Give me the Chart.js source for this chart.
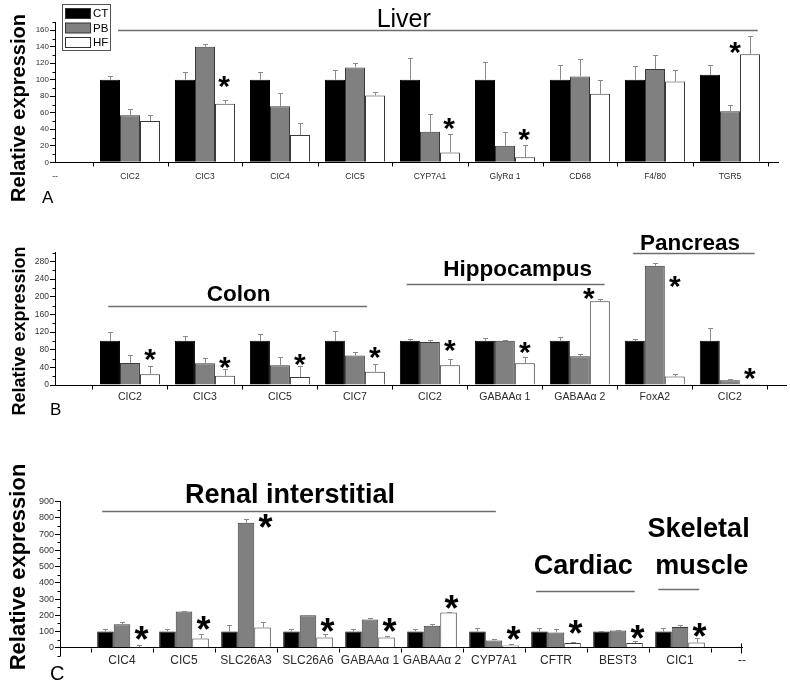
<!DOCTYPE html>
<html><head><meta charset="utf-8">
<script src="https://cdn.jsdelivr.net/npm/chart.js@4.4.1/dist/chart.umd.min.js"></script>
<style>
html,body{margin:0;padding:0;background:#fff;}
#wrap{position:relative;width:790px;height:691px;overflow:hidden;background:#fff;}
canvas{position:absolute;left:0;}
</style></head><body>
<div id="wrap">
<canvas id="cA" width="790" height="210" style="top:0px"></canvas>
<canvas id="cB" width="790" height="230" style="top:210px"></canvas>
<canvas id="cC" width="790" height="251" style="top:440px"></canvas>
</div>
<script>
// ---------------- DATA ----------------
const seriesNames = ["CT", "PB", "HF"];
const yTitleText = "Relative expression";

// Panel A (Liver)
const ticksA = ["--", "CIC2", "CIC3", "CIC4", "CIC5", "CYP7A1", "GlyRα 1", "CD68", "F4/80", "TGR5"];
const ctA    = [100, 100, 100, 100, 100, 100, 100, 100, 106];
const ctErrA = [5, 10, 10, 12, 26, 21, 18, 17, 12];
const pbA    = [57, 140, 68, 115, 37, 20, 104, 113, 62];
const pbErrA = [7, 3, 16, 5, 22, 17, 21, 17, 8];
const hfA    = [50, 71, 33, 81, 12, 6, 83, 98, 131];
const hfErrA = [7, 4, 15, 4, 22, 15, 17, 14, 22];
const sigA   = [null, 97, null, null, 47, 33, null, null, 139];
const yTicksA = [0, 20, 40, 60, 80, 100, 120, 140, 160];

// Panel B (Colon / Hippocampus / Pancreas)
const ticksB = ["", "CIC2", "CIC3", "CIC5", "CIC7", "CIC2", "GABAAα 1", "GABAAα 2", "FoxA2", "CIC2"];
const ctB    = [100, 100, 100, 100, 100, 100, 100, 100, 100];
const ctErrB = [20, 10, 15, 23, 4, 6.5, 9, 4, 29];
const pbB    = [50, 49.5, 45, 67, 97.5, 100, 65, 270, 10.7];
const pbErrB = [18, 11, 19, 8, 5, 2, 4.5, 6, 2.5];
const hfB    = [24.5, 21, 18, 30, 45, 49.5, 189.5, 19, 2.3];
const hfErrB = [19, 15, 24, 17.5, 14, 14.5, 4.5, 6, 0];
const sigB   = [68, 50, 57, 73, 89, 84.5, 205, 233, 25];
const yTicksB = [0, 40, 80, 120, 160, 200, 240, 280];

// Panel C (Renal interstitial / Cardiac / Skeletal muscle)
const ticksC = ["", "CIC4", "CIC5", "SLC26A3", "SLC26A6", "GABAAα 1", "GABAAα 2", "CYP7A1", "CFTR", "BEST3", "CIC1", "--"];
const ctC    = [100, 100, 100, 100, 100, 100, 100, 100, 100, 100];
const ctErrC = [14, 14, 39, 12.5, 12.5, 14.5, 18.6, 22.7, 4, 18.6];
const pbC    = [145, 223, 771, 200, 174, 135, 45, 94, 106, 127];
const pbErrC = [12.5, 6, 22.6, 4, 6, 10, 10, 20.5, 6, 10];
const hfC    = [4, 57, 125, 63, 63, 217, 14, 28.6, 28.6, 32.7];
const hfErrC = [10, 27, 31, 21, 12, 1, 6, 6, 10, 24.6];
const sigC   = [90, 152, 783, 139, 139, 280, 90, 127, 96, 108];
const yTicksC = [0, 100, 200, 300, 400, 500, 600, 700, 800, 900];

// ---------------- RENDERING ----------------
const FONT = '"Liberation Sans", Arial, Helvetica, sans-serif';
const barStyle = [
  {backgroundColor: '#000000', borderColor: '#000000'},
  {backgroundColor: '#808080', borderColor: '#3a3a3a'},
  {backgroundColor: '#ffffff', borderColor: '#3a3a3a'}
];

function makeDecor(p) {
  return {
    id: 'decor_' + p.canvas,
    afterDatasetsDraw(chart) {
      const ctx = chart.ctx, ys = chart.scales.y;
      ctx.save();
      ctx.strokeStyle = '#8a8a8a';
      ctx.lineWidth = 1;
      chart.data.datasets.forEach((d, di) => {
        const meta = chart.getDatasetMeta(di);
        meta.data.forEach((el, i) => {
          const sd = d.err[i];
          if (!sd) return;
          const x = Math.round(el.x) + 0.5;
          const yTop = Math.round(ys.getPixelForValue(d.data[i].y + sd)) + 0.5;
          ctx.beginPath();
          ctx.moveTo(x, el.y);
          ctx.lineTo(x, yTop);
          ctx.moveTo(x - 2.5, yTop);
          ctx.lineTo(x + 2.5, yTop);
          ctx.stroke();
        });
      });
      ctx.restore();
    },
    afterDraw(chart) {
      const ctx = chart.ctx, xs = chart.scales.x, ys = chart.scales.y;
      const ca = chart.chartArea;
      ctx.save();
      // minor y ticks
      ctx.strokeStyle = '#000';
      ctx.lineWidth = 1;
      const ax = Math.round(ca.left) + 0.5;
      ctx.beginPath();
      for (let v = p.yMin; v <= p.yMax + 1e-9; v += p.minorStep) {
        if (p.yTicks.includes(v)) continue;
        const py = Math.round(ys.getPixelForValue(v)) + 0.5;
        ctx.moveTo(ax - 3, py); ctx.lineTo(ax, py);
      }
      // x ticks between categories
      const ay = Math.round(ys.getPixelForValue(0)) + 0.5;
      for (let i = 0; i < p.ticks.length; i++) {
        const v = i + 0.5;
        if (v >= p.xMax) continue;
        const px = Math.round(xs.getPixelForValue(v)) + 0.5;
        ctx.moveTo(px, ay); ctx.lineTo(px, ay + 4);
      }
      if (p.endTick) {
        const px = Math.round(xs.getPixelForValue(p.xMax)) - 0.5;
        ctx.moveTo(px, ay - 5); ctx.lineTo(px, ay + 5);
      }
      ctx.stroke();

      // significance stars
      const hfMeta = chart.getDatasetMeta(2);
      ctx.fillStyle = '#000';
      ctx.font = `bold ${p.starSize}px ${FONT}`;
      ctx.textAlign = 'center';
      ctx.textBaseline = 'alphabetic';
      const m = ctx.measureText('*');
      const off = (m.actualBoundingBoxAscent - m.actualBoundingBoxDescent) / 2;
      p.sig.forEach((s, i) => {
        if (s == null) return;
        const el = hfMeta.data[i];
        const nud = (p.starNudge && p.starNudge[i]) || 0;
        const x = el.x + p.starShift + nud;
        const y = ys.getPixelForValue(s);
        ctx.fillText('*', x, y + off);
      });

      // group rules
      ctx.strokeStyle = '#6e6e6e';
      ctx.lineWidth = 1.3;
      p.rules.forEach(r => {
        const y = Math.round(ys.getPixelForValue(r.y)) + 0.5;
        ctx.beginPath();
        ctx.moveTo(xs.getPixelForValue(r.x1), y);
        ctx.lineTo(xs.getPixelForValue(r.x2), y);
        ctx.stroke();
      });
      // group labels
      p.labels.forEach(l => {
        ctx.font = `${l.bold ? 'bold ' : ''}${l.size}px ${FONT}`;
        ctx.textAlign = 'center';
        ctx.textBaseline = 'alphabetic';
        ctx.fillStyle = '#000';
        ctx.fillText(l.t, xs.getPixelForValue(l.x), ys.getPixelForValue(l.y));
      });

      // y title
      ctx.save();
      ctx.translate(p.yTitle.x, p.yTitle.y);
      ctx.rotate(-Math.PI / 2);
      ctx.font = `bold ${p.yTitle.size}px ${FONT}`;
      ctx.fillStyle = '#000';
      ctx.textAlign = 'center';
      ctx.textBaseline = 'alphabetic';
      ctx.fillText(yTitleText, 0, 0);
      ctx.restore();

      // panel letter
      ctx.font = `${p.letter.size}px ${FONT}`;
      ctx.fillStyle = '#000';
      ctx.textAlign = 'left';
      ctx.textBaseline = 'alphabetic';
      ctx.fillText(p.letter.t, p.letter.x, p.letter.y);

      // legend
      if (p.legend) {
        ctx.strokeStyle = '#555';
        ctx.lineWidth = 1;
        ctx.strokeRect(62.5, 4.5, 48, 46);
        chart.data.datasets.forEach((d, k) => {
          const y = 8.5 + k * 14.5;
          ctx.fillStyle = d.backgroundColor;
          ctx.fillRect(65.5, y, 25, 10);
          ctx.strokeStyle = '#333';
          ctx.strokeRect(65.5, y, 25, 10);
          ctx.fillStyle = '#000';
          ctx.font = `11.5px ${FONT}`;
          ctx.textAlign = 'left';
          ctx.textBaseline = 'middle';
          ctx.fillText(d.label, 93, y + 5.5);
        });
      }
      ctx.restore();
    }
  };
}

function makePanel(p) {
  const xy = arr => arr.map((v, i) => ({x: i + 1, y: v}));
  const vals = [[p.ct, p.ctErr], [p.pb, p.pbErr], [p.hf, p.hfErr]];
  const datasets = vals.map((v, k) => Object.assign({
    label: seriesNames[k],
    data: xy(v[0]),
    err: v[1],
    borderWidth: 1,
    categoryPercentage: 0.8,
    barPercentage: 1.0
  }, barStyle[k]));

  return new Chart(document.getElementById(p.canvas), {
    type: 'bar',
    data: {datasets},
    plugins: [makeDecor(p)],
    options: {
      animation: false,
      responsive: false,
      devicePixelRatio: 1,
      layout: {padding: {left: 0, top: p.top, right: p.right, bottom: p.xAtZero ? p.bottom : 0}},
      plugins: {legend: {display: false}, tooltip: {enabled: false}, title: {display: false}},
      scales: {
        x: {
          type: 'linear',
          min: 0, max: p.xMax,
          offset: false,
          position: p.xAtZero ? {y: 0} : 'bottom',
          grid: {display: true, drawOnChartArea: false, offset: false, drawTicks: true,
                 tickLength: 4, tickColor: 'rgba(0,0,0,0)'},
          border: {display: true, color: '#000', width: 1},
          ticks: {autoSkip: false, maxRotation: 0, minRotation: 0, padding: p.xPad,
                  color: '#2a2a2a', font: {family: FONT, size: p.xFont},
                  callback: v => (p.ticks[v] !== undefined ? p.ticks[v] : '')},
          afterBuildTicks: s => { s.ticks = p.ticks.map((_, i) => ({value: i})); },
          afterFit: s => { s.height = p.xAtZero ? 0 : p.bottom; }
        },
        y: {
          type: 'linear',
          position: 'left',
          min: p.yMin, max: p.yMax,
          grid: {display: true, drawOnChartArea: false, tickLength: 5, tickColor: '#000'},
          border: {display: true, color: '#000', width: 1},
          ticks: {padding: 1, color: '#333', font: {family: FONT, size: p.yFont},
                  callback: v => String(v)},
          afterBuildTicks: s => { s.ticks = p.yTicks.map(v => ({value: v})); },
          afterFit: s => { s.width = p.left; }
        }
      }
    }
  });
}

makePanel({
  canvas: 'cA', ticks: ticksA, yTicks: yTicksA, yMin: 0, yMax: 170, xMax: 9.64, minorStep: 10,
  ct: ctA, ctErr: ctErrA, pb: pbA, pbErr: pbErrA, hf: hfA, hfErr: hfErrA, sig: sigA,
  left: 55, top: 22, right: 12, bottom: 47.7,
  xFont: 8.5, yFont: 8, xPad: 5, starSize: 30, starShift: -1, starNudge: {8: -14},
  legend: true, xAtZero: false, endTick: false,
  yTitle: {size: 20, x: 25, y: 108},
  letter: {t: 'A', size: 17, x: 42, y: 203},
  labels: [{t: 'Liver', x: 4.65, y: 164.4, size: 25, bold: false}],
  rules: [{x1: 0.84, x2: 9.37, y: 160}]
});

makePanel({
  canvas: 'cB', ticks: ticksB, yTicks: yTicksB, yMin: 0, yMax: 300, xMax: 9.75, minorStep: 20,
  ct: ctB, ctErr: ctErrB, pb: pbB, pbErr: pbErrB, hf: hfB, hfErr: hfErrB, sig: sigB,
  left: 55, top: 42.5, right: 4, bottom: 55,
  xFont: 10.5, yFont: 8.5, xPad: 2, starSize: 30, starShift: 0, starNudge: {6: -11},
  legend: false, xAtZero: false, endTick: false,
  yTitle: {size: 18, x: 25, y: 121},
  letter: {t: 'B', size: 17, x: 50, y: 205},
  labels: [
    {t: 'Colon', x: 2.45, y: 190, size: 22.5, bold: true},
    {t: 'Hippocampus', x: 6.17, y: 247, size: 22.5, bold: true},
    {t: 'Pancreas', x: 8.47, y: 306.6, size: 22.5, bold: true}
  ],
  rules: [{x1: 0.71, x2: 4.16, y: 178}, {x1: 4.69, x2: 7.33, y: 229}, {x1: 7.71, x2: 9.33, y: 298.4}]
});

makePanel({
  canvas: 'cC', ticks: ticksC, yTicks: yTicksC, yMin: -50, yMax: 900, xMax: 11, minorStep: 50,
  ct: ctC, ctErr: ctErrC, pb: pbC, pbErr: pbErrC, hf: hfC, hfErr: hfErrC, sig: sigC,
  left: 60, top: 61.7, right: 48, bottom: 35.2,
  xFont: 12, yFont: 9, xPad: 2, starSize: 36, starShift: 3, starNudge: {},
  legend: false, xAtZero: true, endTick: true,
  yTitle: {size: 22, x: 25, y: 127},
  letter: {t: 'C', size: 20, x: 50, y: 240},
  labels: [
    {t: 'Renal interstitial', x: 3.71, y: 890, size: 27, bold: true},
    {t: 'Cardiac', x: 8.44, y: 456, size: 27, bold: true},
    {t: 'Skeletal', x: 10.3, y: 685, size: 27, bold: true},
    {t: 'muscle', x: 10.35, y: 456, size: 27, bold: true}
  ],
  rules: [{x1: 0.68, x2: 7.03, y: 845}, {x1: 7.68, x2: 9.27, y: 348}, {x1: 9.65, x2: 10.31, y: 360}]
});
</script>
</body></html>
